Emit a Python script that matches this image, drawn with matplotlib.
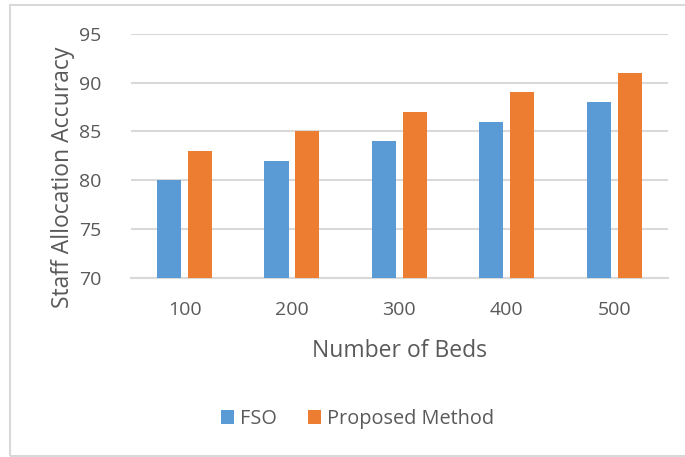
import matplotlib.pyplot as plt
import numpy as np
from matplotlib.patches import Rectangle

beds = ["100", "200", "300", "400", "500"]
fso = [80, 82, 84, 86, 88]
proposed = [83, 85, 87, 89, 91]

plt.rcParams['font.family'] = ['Open Sans', 'DejaVu Sans']
text_col = "#595959"
grid_col = "#d9d9d9"

fig = plt.figure(figsize=(6.85, 4.57), dpi=100)
ax = fig.add_axes([0.191, 0.392, 0.784, 0.534])

x = np.arange(len(beds))
w = 0.224
off = 0.144
ax.bar(x - off, fso, w, color="#5B9BD5", label="FSO", zorder=3)
ax.bar(x + off, proposed, w, color="#ED7D31", label="Proposed Method", zorder=3)

ax.set_xlim(-0.5, len(beds) - 0.5)
ax.set_ylim(70, 95)
ax.set_yticks(range(70, 96, 5))
ax.set_xticks(x)
ax.set_xticklabels(beds)
ax.yaxis.grid(True, color=grid_col, linewidth=1.5, zorder=0)
for s in ["top", "right", "left"]:
    ax.spines[s].set_visible(False)
ax.spines["bottom"].set_color(grid_col)
ax.spines["bottom"].set_linewidth(1.5)
ax.tick_params(length=0, labelsize=14, labelcolor=text_col)
ax.tick_params(axis="x", pad=17)
ax.tick_params(axis="y", pad=21)

ax.set_xlabel("Number of Beds", fontsize=16.5, color=text_col, labelpad=14)
ax.set_ylabel("Staff Allocation Accuracy", fontsize=16.5, color=text_col)
ax.yaxis.set_label_coords(-0.104, 0.414)

fig.legend(loc="center", bbox_to_anchor=(0.522, 0.083), ncol=2, frameon=False,
           fontsize=14.3, labelcolor=text_col, handlelength=0.65, handleheight=0.65,
           handletextpad=0.3, columnspacing=1.6)

# outer chart frame
fig.patches.append(Rectangle((10 / 685, 0.003), 1.0, 0.986, transform=fig.transFigure,
                             fill=False, edgecolor=grid_col, linewidth=1.5))

fig.savefig("out.png", dpi=100)
